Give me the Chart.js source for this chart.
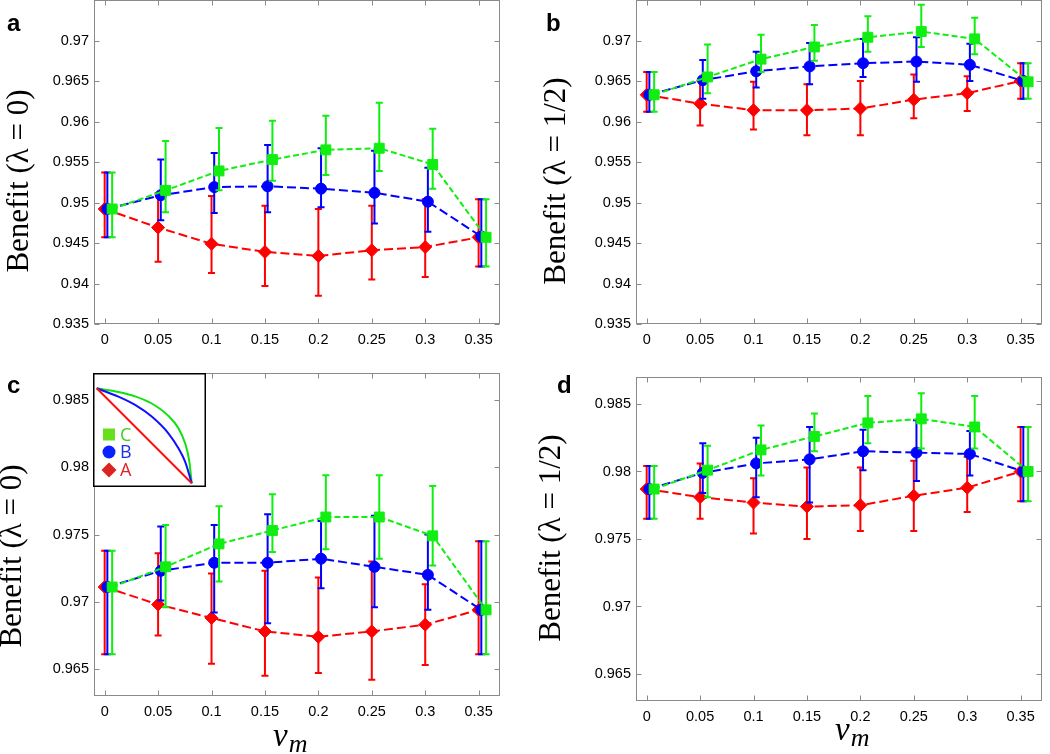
<!DOCTYPE html>
<html>
<head>
<meta charset="utf-8">
<script src="https://cdn.jsdelivr.net/npm/chart.js@4/dist/chart.umd.min.js"></script>
<style>
  body { margin: 0; background: #fff; width: 1050px; height: 754px; position: relative; overflow: hidden; }
  .panel { position: absolute; }
  #insetBox { background: #fff; }
</style>
</head>
<body>
<div class="panel" style="left:0;top:0;width:525px;height:370px"><canvas id="chartA"></canvas></div>
<div class="panel" style="left:525px;top:0;width:525px;height:370px"><canvas id="chartB"></canvas></div>
<div class="panel" style="left:0;top:370px;width:525px;height:384px"><canvas id="chartC"></canvas></div>
<div class="panel" style="left:525px;top:370px;width:525px;height:384px"><canvas id="chartD"></canvas></div>
<div class="panel" id="insetBox" style="left:93px;top:373px;width:113px;height:114px"><canvas id="inset"></canvas></div>
<script>
// x positions (v_m) and tick labels
var xValues = [0, 0.05, 0.1, 0.15, 0.2, 0.25, 0.3, 0.35];
var xTicks = [0, 0.05, 0.1, 0.15, 0.2, 0.25, 0.3, 0.35];
var yTicksTop = [0.935, 0.94, 0.945, 0.95, 0.955, 0.96, 0.965, 0.97];
var yTicksBottom = [0.965, 0.97, 0.975, 0.98, 0.985];
// small horizontal shift of each series so the error bars don't overlap
var shiftA = 0, shiftB = 0.0025, shiftC = 0.007;

// panel a
var aA = [0.9492, 0.9469, 0.9449, 0.9439, 0.9434, 0.9441, 0.9445, 0.9457];
var aAlo = [0.9457, 0.9427, 0.9413, 0.9397, 0.9385, 0.9405, 0.9408, 0.9421];
var aAhi = [0.9537, 0.9511, 0.9508, 0.9496, 0.9492, 0.9496, 0.9504, 0.9504];
var aB = [0.9492, 0.9509, 0.9519, 0.9520, 0.9517, 0.9512, 0.9501, 0.9458];
var aBlo = [0.9457, 0.9478, 0.9487, 0.9488, 0.9494, 0.9474, 0.9464, 0.9421];
var aBhi = [0.9537, 0.9553, 0.9561, 0.9571, 0.9567, 0.9564, 0.9543, 0.9504];
var aC = [0.9492, 0.9515, 0.9539, 0.9553, 0.9565, 0.9567, 0.9547, 0.9457];
var aClo = [0.9457, 0.9488, 0.9515, 0.9527, 0.9534, 0.9539, 0.9517, 0.9421];
var aChi = [0.9537, 0.9576, 0.9592, 0.9601, 0.9607, 0.9623, 0.9591, 0.9504];

// panel b
var bA = [0.9633, 0.9622, 0.9614, 0.9614, 0.9616, 0.9627, 0.9635, 0.9650];
var bAlo = [0.9612, 0.9595, 0.9590, 0.9583, 0.9583, 0.9604, 0.9613, 0.9628];
var bAhi = [0.9661, 0.9650, 0.9649, 0.9646, 0.9650, 0.9658, 0.9656, 0.9672];
var bB = [0.9633, 0.9651, 0.9662, 0.9668, 0.9672, 0.9674, 0.9670, 0.9650];
var bBlo = [0.9612, 0.9628, 0.9642, 0.9646, 0.9655, 0.9649, 0.9650, 0.9628];
var bBhi = [0.9661, 0.9676, 0.9686, 0.9697, 0.9702, 0.9704, 0.9696, 0.9672];
var bC = [0.9633, 0.9655, 0.9677, 0.9692, 0.9704, 0.9711, 0.9702, 0.9649];
var bClo = [0.9612, 0.9635, 0.9661, 0.9675, 0.9686, 0.9692, 0.9683, 0.9628];
var bChi = [0.9661, 0.9695, 0.9707, 0.9719, 0.9730, 0.9744, 0.9728, 0.9672];

// panel c
var cA = [0.9711, 0.9698, 0.9688, 0.9678, 0.9674, 0.9678, 0.9683, 0.9694];
var cAlo = [0.9661, 0.9675, 0.9654, 0.9645, 0.9647, 0.9642, 0.9653, 0.9661];
var cAhi = [0.9738, 0.9736, 0.9721, 0.9723, 0.9718, 0.9730, 0.9713, 0.9745];
var cB = [0.9711, 0.9723, 0.9729, 0.9729, 0.9732, 0.9726, 0.9720, 0.9694];
var cBlo = [0.9661, 0.9701, 0.9692, 0.9684, 0.9710, 0.9696, 0.9694, 0.9661];
var cBhi = [0.9738, 0.9756, 0.9757, 0.9765, 0.9760, 0.9764, 0.9750, 0.9745];
var cC = [0.9711, 0.9726, 0.9743, 0.9753, 0.9763, 0.9763, 0.9749, 0.9694];
var cClo = [0.9661, 0.9696, 0.9715, 0.9737, 0.9739, 0.9732, 0.9727, 0.9661];
var cChi = [0.9738, 0.9757, 0.9771, 0.9780, 0.9794, 0.9794, 0.9786, 0.9745];

// panel d
var dA = [0.9787, 0.9781, 0.9777, 0.9774, 0.9775, 0.9782, 0.9788, 0.9800];
var dAlo = [0.9765, 0.9765, 0.9754, 0.9750, 0.9756, 0.9756, 0.9770, 0.9778];
var dAhi = [0.9804, 0.9806, 0.9795, 0.9803, 0.9803, 0.9808, 0.9811, 0.9833];
var dB = [0.9787, 0.9799, 0.9806, 0.9809, 0.9815, 0.9814, 0.9813, 0.9800];
var dBlo = [0.9765, 0.9784, 0.9781, 0.9777, 0.9801, 0.9793, 0.9797, 0.9778];
var dBhi = [0.9804, 0.9821, 0.9825, 0.9833, 0.9831, 0.9838, 0.9830, 0.9833];
var dC = [0.9787, 0.9801, 0.9816, 0.9826, 0.9836, 0.9839, 0.9833, 0.9800];
var dClo = [0.9765, 0.9781, 0.9797, 0.9815, 0.9821, 0.9817, 0.9817, 0.9778];
var dChi = [0.9804, 0.9819, 0.9834, 0.9843, 0.9856, 0.9858, 0.9856, 0.9833];

// inset: shape of the three benefit curves (normalised)
var insetAx = [0, 1];
var insetAy = [1, 0];
var insetBx = [0, 0.228, 0.404, 0.579, 0.754, 0.860, 0.930, 1];
var insetBy = [1, 0.912, 0.825, 0.702, 0.526, 0.368, 0.228, 0];
var insetCx = [0, 0.228, 0.404, 0.579, 0.754, 0.860, 0.930, 0.972, 1];
var insetCy = [1, 0.962, 0.915, 0.840, 0.710, 0.579, 0.421, 0.246, 0];
var insetLabels = ['C', 'B', 'A'];

var red = '#ff0000', blue = '#0000ff', green = '#11ee11';
var frameColor = '#8a8a8a';
var tickFont = { family: 'Liberation Sans', size: 14.5 };

function series(vals, lo, hi, shift, color, point, radius, dash) {
  return {
    data: vals.map(function (v, i) { return { x: xValues[i] + shift, y: v }; }),
    errLow: lo,
    errHigh: hi,
    borderColor: color,
    backgroundColor: color,
    borderWidth: 2,
    borderDash: dash,
    pointStyle: point,
    pointRadius: radius,
    pointBorderWidth: 1,
    pointBackgroundColor: color,
    pointBorderColor: color,
    fill: false,
    tension: 0
  };
}

var panelDecor = {
  id: 'panelDecor',
  beforeDatasetsDraw: function (chart) {
    var ctx = chart.ctx, a = chart.chartArea;
    var xs = chart.scales.x, ys = chart.scales.y;
    ctx.save();
    ctx.strokeStyle = frameColor;
    ctx.lineWidth = 1;
    var l = Math.round(a.left) + 0.5, r = Math.round(a.right) - 0.5;
    var t = Math.round(a.top) + 0.5, b = Math.round(a.bottom) - 0.5;
    ctx.strokeRect(l, t, r - l, b - t);
    ctx.beginPath();
    xs.ticks.forEach(function (tk) {
      var px = Math.round(xs.getPixelForValue(tk.value)) + 0.5;
      ctx.moveTo(px, b); ctx.lineTo(px, b - 5);
      ctx.moveTo(px, t); ctx.lineTo(px, t + 5);
    });
    ys.ticks.forEach(function (tk) {
      var py = Math.round(ys.getPixelForValue(tk.value)) + 0.5;
      ctx.moveTo(l, py); ctx.lineTo(l + 5, py);
      ctx.moveTo(r, py); ctx.lineTo(r - 5, py);
    });
    ctx.stroke();
    ctx.restore();
  },
  beforeDatasetDraw: function (chart, args) {
    var ds = chart.data.datasets[args.index];
    if (!ds.errLow) return;
    var ctx = chart.ctx, xs = chart.scales.x, ys = chart.scales.y;
    ctx.save();
    ctx.strokeStyle = ds.borderColor;
    ctx.lineWidth = 2;
    ctx.setLineDash([]);
    ctx.beginPath();
    ds.data.forEach(function (p, i) {
      var px = xs.getPixelForValue(p.x);
      var lo = ys.getPixelForValue(ds.errLow[i]);
      var hi = ys.getPixelForValue(ds.errHigh[i]);
      ctx.moveTo(px, lo); ctx.lineTo(px, hi);
      ctx.moveTo(px - 3.5, lo); ctx.lineTo(px + 3.5, lo);
      ctx.moveTo(px - 3.5, hi); ctx.lineTo(px + 3.5, hi);
    });
    ctx.stroke();
    ctx.restore();
  },
  afterDraw: function (chart, args, opts) {
    var ctx = chart.ctx;
    ctx.save();
    ctx.fillStyle = '#000';
    ctx.textBaseline = 'alphabetic';
    ctx.textAlign = 'left';
    ctx.font = 'bold 24px "Liberation Sans"';
    ctx.fillText(opts.letter, opts.letterX, opts.letterY);
    // y axis title
    ctx.save();
    ctx.translate(opts.yTitleX, opts.yTitleY);
    ctx.rotate(-Math.PI / 2);
    ctx.textAlign = 'center';
    ctx.textBaseline = 'middle';
    ctx.font = '31px "Liberation Serif"';
    ctx.fillText(opts.yTitle, 0, 0);
    ctx.restore();
    if (opts.xTitle) {
      ctx.font = 'italic 33px "Liberation Serif"';
      ctx.fillText('v', opts.xTitleX, opts.xTitleY);
      var w = ctx.measureText('v').width;
      ctx.font = 'italic 26px "Liberation Serif"';
      ctx.fillText('m', opts.xTitleX + w + 1, opts.xTitleY + 6);
    }
    ctx.restore();
  }
};

function makePanel(id, datasets, p) {
  return new Chart(document.getElementById(id), {
    type: 'line',
    data: { datasets: datasets },
    options: {
      responsive: true,
      maintainAspectRatio: false,
      animation: false,
      layout: { autoPadding: false, padding: { left: 0, top: p.padTop, right: p.padRight, bottom: 0 } },
      scales: {
        x: {
          type: 'linear',
          min: -0.01,
          max: 0.37,
          afterBuildTicks: function (s) { s.ticks = xTicks.map(function (v) { return { value: v }; }); },
          afterFit: function (s) { s.height = p.xHeight; s.paddingLeft = 0; s.paddingRight = 0; },
          grid: { display: false, drawTicks: false },
          border: { display: false },
          ticks: { font: tickFont, color: '#000', padding: 7, maxRotation: 0, autoSkip: false,
                   callback: function (v) { return String(v); } }
        },
        y: {
          type: 'linear',
          min: p.yMin,
          max: p.yMax,
          afterBuildTicks: function (s) { s.ticks = p.yTicks.map(function (v) { return { value: v }; }); },
          afterFit: function (s) { s.width = p.yWidth; s.paddingTop = 0; s.paddingBottom = 0; },
          grid: { display: false, drawTicks: false },
          border: { display: false },
          ticks: { font: tickFont, color: '#000', padding: 5, autoSkip: false,
                   callback: function (v) { return String(v); } }
        }
      },
      plugins: {
        legend: { display: false },
        tooltip: { enabled: false },
        panelDecor: p.decor
      }
    },
    plugins: [panelDecor]
  });
}

function threeSeries(A, Alo, Ahi, B, Blo, Bhi, C, Clo, Chi) {
  // green drawn on top, red at the bottom
  return [
    series(C, Clo, Chi, shiftC, green, 'rect', 7, [6, 3]),
    series(B, Blo, Bhi, shiftB, blue, 'circle', 5.5, [9, 4]),
    series(A, Alo, Ahi, shiftA, red, 'rectRot', 6.5, [9, 4])
  ];
}

makePanel('chartA', threeSeries(aA, aAlo, aAhi, aB, aBlo, aBhi, aC, aClo, aChi), {
  padTop: 0, padRight: 25, xHeight: 46, yWidth: 94, yMin: 0.935, yMax: 0.975, yTicks: yTicksTop,
  decor: { letter: 'a', letterX: 7, letterY: 31, yTitle: 'Benefit (λ = 0)', yTitleX: 20, yTitleY: 181 }
});
makePanel('chartB', threeSeries(bA, bAlo, bAhi, bB, bBlo, bBhi, bC, bClo, bChi), {
  padTop: 0, padRight: 8, xHeight: 46, yWidth: 111, yMin: 0.935, yMax: 0.975, yTicks: yTicksTop,
  decor: { letter: 'b', letterX: 21, letterY: 31, yTitle: 'Benefit (λ = 1/2)', yTitleX: 32, yTitleY: 181 }
});
makePanel('chartC', threeSeries(cA, cAlo, cAhi, cB, cBlo, cBhi, cC, cClo, cChi), {
  padTop: 3, padRight: 25, xHeight: 58, yWidth: 94, yMin: 0.963, yMax: 0.987, yTicks: yTicksBottom,
  decor: { letter: 'c', letterX: 7, letterY: 23, yTitle: 'Benefit (λ = 0)', yTitleX: 13, yTitleY: 186,
           xTitle: true, xTitleX: 273, xTitleY: 376 }
});
makePanel('chartD', threeSeries(dA, dAlo, dAhi, dB, dBlo, dBhi, dC, dClo, dChi), {
  padTop: 7, padRight: 8, xHeight: 53, yWidth: 111, yMin: 0.963, yMax: 0.987, yTicks: yTicksBottom,
  decor: { letter: 'd', letterX: 32, letterY: 23, yTitle: 'Benefit (λ = 1/2)', yTitleX: 27, yTitleY: 168,
           xTitle: true, xTitleX: 310, xTitleY: 370 }
});

// inset with the curve shapes and the legend
var insetDecor = {
  id: 'insetDecor',
  afterDraw: function (chart) {
    var ctx = chart.ctx, w = chart.width, h = chart.height;
    ctx.save();
    ctx.strokeStyle = '#000';
    ctx.lineWidth = 1.5;
    ctx.strokeRect(0.75, 0.75, w - 1.5, h - 1.5);
    var rows = [61.5, 79, 97];
    var markColors = ['#66e01a', '#0a22ff', '#dd2222'];
    var textColors = ['#3fcf1f', '#1a2ef0', '#e02228'];
    ctx.font = '18px "Open Sans"';
    ctx.textBaseline = 'middle';
    insetLabels.forEach(function (lab, i) {
      var cx = 16, cy = rows[i];
      ctx.fillStyle = markColors[i];
      ctx.beginPath();
      if (i === 0) ctx.rect(cx - 6, cy - 6, 12, 12);
      else if (i === 1) ctx.arc(cx, cy, 6.5, 0, Math.PI * 2);
      else { ctx.moveTo(cx, cy - 7.5); ctx.lineTo(cx + 7.5, cy); ctx.lineTo(cx, cy + 7.5); ctx.lineTo(cx - 7.5, cy); ctx.closePath(); }
      ctx.fill();
      ctx.fillStyle = textColors[i];
      ctx.fillText(lab, 27, cy + 1);
    });
    ctx.restore();
  }
};

function curve(xs, ys, color) {
  return {
    data: xs.map(function (x, i) { return { x: x, y: ys[i] }; }),
    borderColor: color,
    borderWidth: 2,
    pointRadius: 0,
    fill: false,
    cubicInterpolationMode: 'monotone'
  };
}

new Chart(document.getElementById('inset'), {
  type: 'line',
  data: {
    datasets: [
      curve(insetAx, insetAy, '#ff1010'),
      curve(insetBx, insetBy, '#1010ff'),
      curve(insetCx, insetCy, '#10e010')
    ]
  },
  options: {
    responsive: true,
    maintainAspectRatio: false,
    animation: false,
    layout: { autoPadding: false, padding: 0 },
    scales: {
      x: { type: 'linear', display: false, min: -0.039, max: 1.15 },
      y: { type: 'linear', display: false, min: -0.039, max: 1.161 }
    },
    plugins: { legend: { display: false }, tooltip: { enabled: false } }
  },
  plugins: [insetDecor]
});
</script>
</body>
</html>
